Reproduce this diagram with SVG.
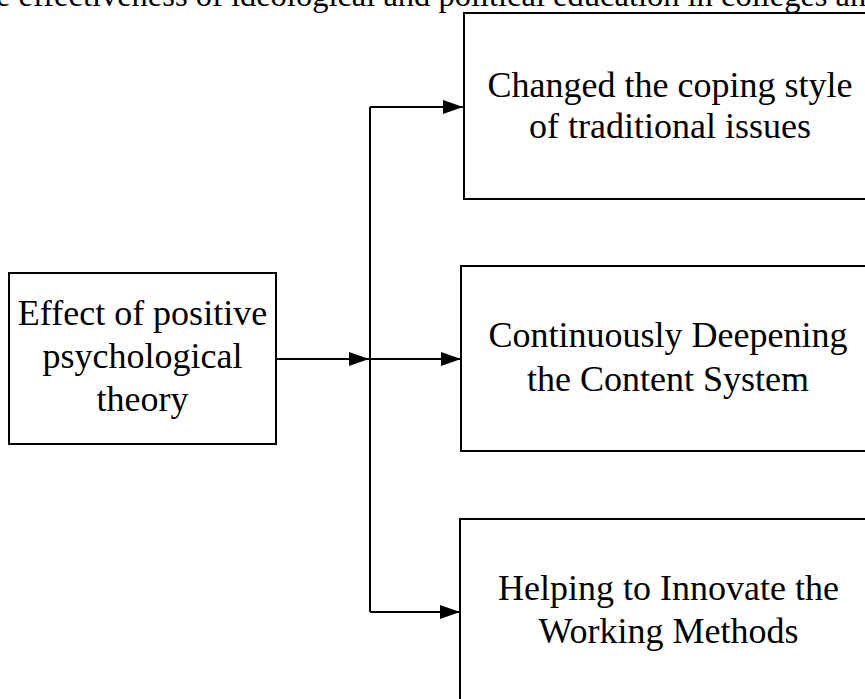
<svg xmlns="http://www.w3.org/2000/svg" width="865" height="699" viewBox="0 0 865 699">
<style>
.box{fill:#fff;stroke:#000;stroke-width:2}
.t{font-family:"Liberation Serif","Times New Roman",serif;font-size:36px;fill:#000;text-anchor:middle}
.cap{font-family:"Liberation Serif","Times New Roman",serif;font-size:32.5px;fill:#000}
.c{fill:none;stroke:#000;stroke-width:2}
</style>
<defs>
<marker id="ah" markerUnits="userSpaceOnUse" markerWidth="20" markerHeight="14" refX="20" refY="7" orient="auto">
<path d="M0,0 L20,7 L0,14 Z" fill="#000"/>
</marker>
</defs>
<rect width="865" height="699" fill="#fff"/>
<text class="cap" x="-4" y="6">e effectiveness of ideological and political education in colleges an</text>
<g id="connectors">
<path class="c" d="M276,359 H369" marker-end="url(#ah)"/>
<path class="c" d="M370,107 V612"/>
<path class="c" d="M370,107 H463" marker-end="url(#ah)"/>
<path class="c" d="M370,359 H461" marker-end="url(#ah)"/>
<path class="c" d="M370,612 H460" marker-end="url(#ah)"/>
</g>
<g id="source">
<rect class="box" x="9" y="273" width="267" height="171"/>
<text class="t" x="142.5" y="325">Effect of positive</text>
<text class="t" x="142.5" y="368">psychological</text>
<text class="t" x="142.5" y="411">theory</text>
</g>
<g id="coping">
<rect class="box" x="464" y="13" width="420" height="186"/>
<text class="t" x="670" y="97">Changed the coping style</text>
<text class="t" x="670" y="138">of traditional issues</text>
</g>
<g id="content">
<rect class="box" x="461" y="266" width="420" height="185"/>
<text class="t" x="668" y="347">Continuously Deepening</text>
<text class="t" x="668" y="391">the Content System</text>
</g>
<g id="methods">
<rect class="box" x="460" y="519" width="420" height="200"/>
<text class="t" x="668.5" y="600">Helping to Innovate the</text>
<text class="t" x="668.5" y="643">Working Methods</text>
</g>
</svg>
